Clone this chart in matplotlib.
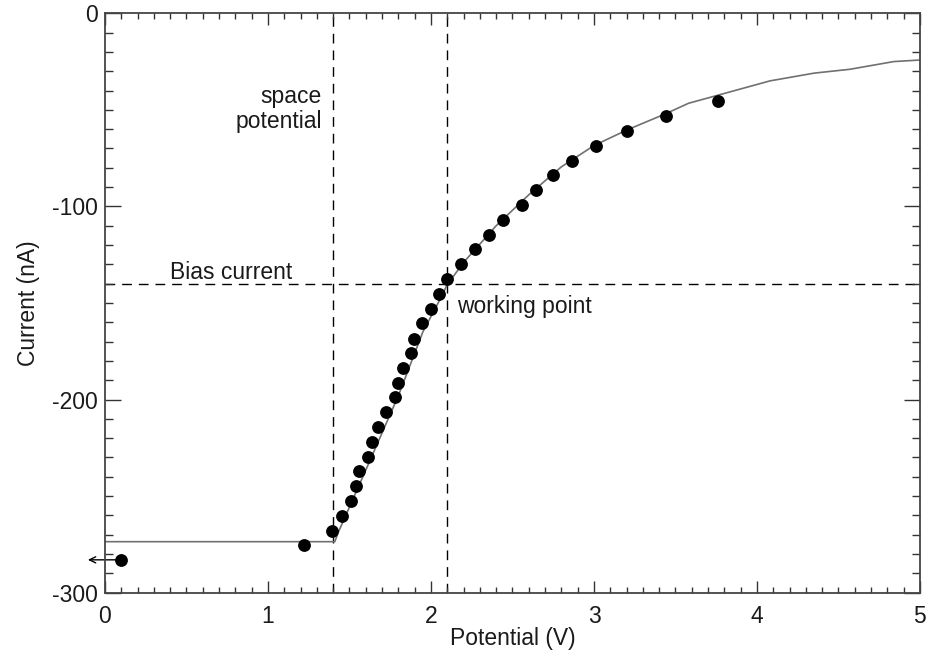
import matplotlib
matplotlib.use("Agg")
import matplotlib.pyplot as plt
from matplotlib.ticker import MultipleLocator

# Measured data points (Potential V, Current nA)
dots_x = [0.10, 1.22, 1.39, 1.456, 1.507, 1.539, 1.558, 1.611, 1.641, 1.678,
          1.727, 1.781, 1.799, 1.830, 1.877, 1.896, 1.947, 1.998, 2.050, 2.097,
          2.185, 2.270, 2.356, 2.439, 2.558, 2.644, 2.746, 2.863, 3.015, 3.200,
          3.442, 3.763]
dots_y = [-283, -275.4, -268, -260.2, -252.4, -244.8, -236.9, -229.6, -221.9, -214.4,
          -206.6, -198.6, -191.4, -183.7, -176.1, -168.5, -160.5, -153.2, -145.4, -137.8,
          -130, -122.2, -114.8, -107, -99.4, -91.7, -83.9, -76.5, -68.7, -61,
          -53.3, -45.6]

# Model curve
curve_x = [0.0, 1.41, 1.43, 1.6, 1.8, 1.95, 2.05, 2.1, 2.2, 2.4, 2.6, 2.8, 3.0,
           3.2, 3.44, 3.58, 3.8, 4.08, 4.35, 4.57, 4.84, 5.0]
curve_y = [-273.6, -273.6, -269, -236.5, -198, -165, -149, -140.5, -129, -110,
           -94, -79.5, -68.5, -60.5, -52, -46.6, -41.5, -35, -31, -29, -25, -24.2]

space_potential = 1.40
working_potential = 2.10
bias_current = -140

plt.rcParams['font.family'] = ['Liberation Sans', 'DejaVu Sans']
plt.rcParams['axes.unicode_minus'] = False

fig = plt.figure(figsize=(9.3, 6.51), dpi=100)
ax = fig.add_axes([0.1129, 0.0896, 0.8763, 0.89])

txt = '#1a1a1a'
ax.plot(curve_x, curve_y, color='#707070', lw=1.2, zorder=2)
ax.plot(dots_x, dots_y, 'o', color='black', ms=8.2, zorder=3)

ax.axvline(space_potential, color='black', lw=1.0, dashes=(7, 5), zorder=1)
ax.axvline(working_potential, color='black', lw=1.0, dashes=(7, 5), zorder=1)
ax.axhline(bias_current, color='black', lw=1.0, dashes=(7, 5), zorder=1)

fs = 16.5
ax.text(1.329, -46.6, 'space', ha='right', va='baseline', fontsize=fs, color=txt)
ax.text(1.329, -59.6, 'potential', ha='right', va='baseline', fontsize=fs, color=txt)
ax.text(0.40, -137.8, 'Bias current', ha='left', va='baseline', fontsize=fs, color=txt)
ax.text(2.157, -155.4, 'working point', ha='left', va='baseline', fontsize=fs, color=txt)

ax.annotate('', xy=(-0.105, dots_y[0]), xytext=(0.08, dots_y[0]),
            arrowprops=dict(arrowstyle='->,head_length=0.45,head_width=0.22',
                            color='black', lw=1.0, shrinkA=0, shrinkB=0),
            annotation_clip=False, zorder=2)

ax.set_xlim(0, 5)
ax.set_ylim(-300, 0)
ax.xaxis.set_major_locator(MultipleLocator(1))
ax.xaxis.set_minor_locator(MultipleLocator(0.1))
ax.yaxis.set_major_locator(MultipleLocator(100))
ax.yaxis.set_minor_locator(MultipleLocator(10))
ax.tick_params(which='both', direction='in', top=True, right=True,
               color='#333333', width=1.0, labelsize=fs, labelcolor=txt)
ax.tick_params(axis='x', which='major', length=8.6, pad=9)
ax.tick_params(axis='x', which='minor', length=4.3)
ax.tick_params(axis='y', which='major', length=11.3, pad=5)
ax.tick_params(axis='y', which='minor', length=6)

for s in ax.spines.values():
    s.set_color('#444444')
    s.set_linewidth(1.3)

ax.set_xlabel('Potential (V)', fontsize=fs, color=txt)
ax.set_ylabel('Current (nA)', fontsize=fs, color=txt)
ax.xaxis.set_label_coords(0.5, -0.060)
ax.yaxis.set_label_coords(-0.080, 0.50)

fig.savefig('out.png', dpi=100)
